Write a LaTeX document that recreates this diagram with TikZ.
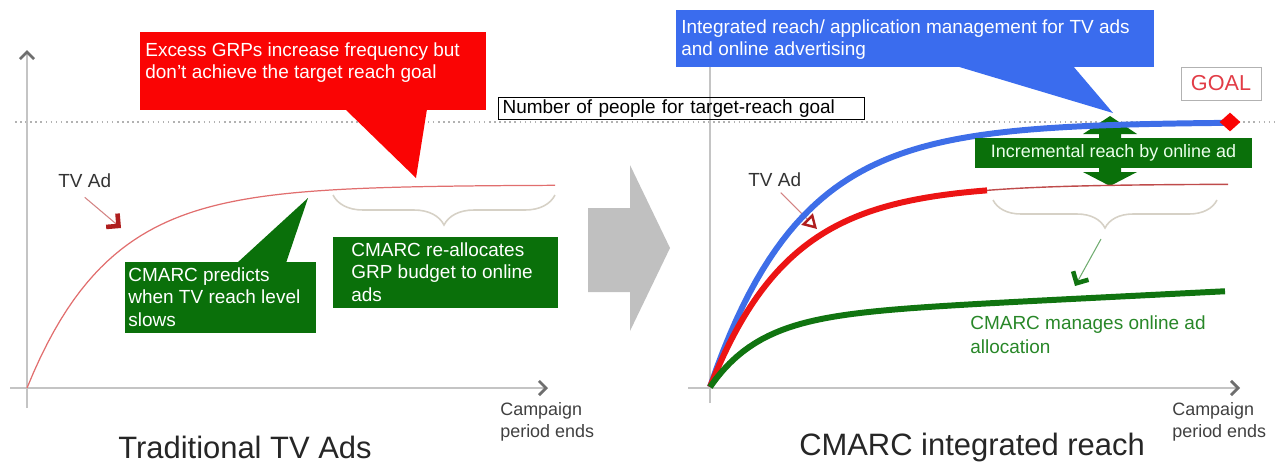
\documentclass[tikz,border=0pt]{standalone}
\usepackage{fontspec}
\setmainfont{Liberation Sans}
\usetikzlibrary{fit,arrows.meta,shapes.geometric,decorations.pathreplacing}

\definecolor{excessred}{RGB}{250,4,4}
\definecolor{callblue}{RGB}{58,108,238}
\definecolor{reachblue}{RGB}{62,110,232}
\definecolor{boxgreen}{RGB}{10,112,10}
\definecolor{onlinegreen}{RGB}{16,116,16}
\definecolor{managegreen}{RGB}{40,135,40}
\definecolor{tvred}{RGB}{175,30,30}
\definecolor{tvthin}{RGB}{225,110,110}
\definecolor{curvered}{RGB}{236,20,20}
\definecolor{shiftgray}{RGB}{192,192,192}
\definecolor{axisgray}{RGB}{196,196,196}
\definecolor{tipgray}{RGB}{110,110,110}
\definecolor{bracegray}{RGB}{214,209,198}
\definecolor{goalred}{RGB}{226,60,70}

\begin{document}
\begin{tikzpicture}[x=0.2mm,y=-0.2mm,
		lbl/.style={font=\fontsize{10.8}{13}\selectfont,inner sep=0pt,align=left,anchor=north west},
		boxlbl/.style={lbl,text=white},
		small/.style={font=\fontsize{10.2}{12.5}\selectfont},
		paneltitle/.style={font=\fontsize{17.6}{20}\selectfont,inner sep=0pt,text=black!85},
		boxfill/.style={inner sep=0pt,fill=#1},
		axisline/.style={draw=axisgray,line width=0.8pt,-{Straight Barb[length=4pt,width=8pt,line width=1.6pt,color=tipgray]}},
		curve/.style={line width=3.4pt,draw=#1}]

		\useasboundingbox (0,0) rectangle (1275,462);

		%% target reach level
		\draw[dotted,line width=0.9pt,draw=gray!60] (15,122) -- (1275,122);

		%%% Traditional TV
		\draw[axisline] (27,408) -- (27,50);
		\draw[axisline] (10,388) -- (548,388);

		\node[lbl,text=black!80] (tvad) at (58,173) {TV Ad};
		\coordinate (tvadtip) at (121,228);
		\draw[draw=tvred!55,line width=0.6pt,-{Straight Barb[length=5pt,width=10pt,line width=2.6pt,color=tvred]}] ([yshift=-5.5pt]tvad.south) -- (tvadtip);

		\draw[draw=tvthin,line width=0.7pt] plot[domain=0:528,samples=80,variable=\t] ({27+\t},{388-203*(1-exp(-\t/82))});

		\node[fit={(140,32) (486,110)},boxfill=excessred] (excessbox) {};
		\coordinate (excesstip) at (416,178);
		\fill[excessred] (345,109) -- (excesstip) -- (427,109) -- cycle;
		\node[boxlbl] (excess) at (145,42) {Excess GRPs increase frequency but\\don't achieve the target reach goal};

		\node[fit={(125,262) (316,333)},boxfill=boxgreen] (predictbox) {};
		\coordinate (predicttip) at (308,198);
		\fill[boxgreen] (237,263) -- (predicttip) -- (286,263) -- cycle;
		\node[boxlbl] (predict) at (128,267) {CMARC predicts\\when TV reach level\\slows};

		\draw[bracegray,line width=0.9pt,decorate,decoration={brace,mirror,amplitude=6mm}] (333,195) -- (555,195);
		\node[fit={(333,237) (558,308)},boxfill=boxgreen] (reallocbox) {};
		\node[boxlbl] (realloc) at (351,242) {CMARC re-allocates\\GRP budget to online\\ads};

		\node[lbl,small,text=black!75] (endleft) at (500,402) {Campaign\\period ends};
		\node[paneltitle] (traditional) at (245,447) {Traditional TV Ads};

		%% shift to the integrated plan
		\fill[shiftgray] (588,208) -- (630,208) -- (630,165) -- (670,248) -- (630,331) -- (630,292) -- (588,292) -- cycle;

		%%% CMARC integrated reach
		\draw[axisline] (710,403) -- (710,55);
		\draw[axisline] (688,388) -- (1240,388);

		\node[lbl,draw=black,line width=0.7pt,anchor=west,text width=71.6mm,inner xsep=0.8mm,inner ysep=1.4pt] (target) at (498,108.5) {Number of people for target-reach goal};

		\node[lbl,text=black!80] (tvadtwo) at (748,172) {TV Ad};
		\coordinate (tvadtwotip) at (817,229);
		\draw[draw=tvred!55,line width=0.6pt,-{Triangle[open,length=8pt,width=9pt,line width=1.4pt,color=tvred]}] ([xshift=3.4pt,yshift=-3.4pt]tvadtwo.south) -- (tvadtwotip);

		\fill[boxgreen] (1110,116) -- (1137,134) -- (1121,134) -- (1121,172) -- (1137,172) -- (1110,186) -- (1083,172) -- (1099,172) -- (1099,134) -- (1083,134) -- cycle;

		\draw[curve=reachblue] plot[domain=0:520,samples=80,variable=\t] ({710+\t},{387-265*(1-exp(-\t/90))});
		\draw[curve=curvered] plot[domain=0:277,samples=60,variable=\t] ({710+\t},{387-203*(1-exp(-\t/80))});
		\draw[draw=tvred!80,line width=0.8pt] plot[domain=277:518,samples=30,variable=\t] ({710+\t},{387-203*(1-exp(-\t/80))});
		\draw[curve=onlinegreen] plot[domain=0:515,samples=80,variable=\t] ({710+\t},{387-70*(1-exp(-\t/50))-0.05*\t});

		\node[diamond,fill=excessred,inner sep=0pt,minimum width=4.2mm,minimum height=3.8mm] (goalmark) at (1230,122) {};
		\node[draw=gray!60,fill=white,inner sep=0pt,minimum width=16mm,minimum height=6.6mm,font=\fontsize{12.3}{14}\selectfont,text=goalred] (goal) at (1221,83.5) {GOAL};

		\node[fit={(676,10) (1154,67)},boxfill=callblue] (integratedbox) {};
		\coordinate (integratedtip) at (1113,113);
		\fill[callblue] (956,66) -- (integratedtip) -- (1073,66) -- cycle;
		\node[boxlbl] (integ) at (681,19) {Integrated reach/ application management for TV ads\\and online advertising};

		\node[fill=boxgreen,minimum width=55.4mm,minimum height=6mm,inner sep=0pt,small,text=green!8!white] (incremental) at (1113.5,153) {Incremental reach by online ad};

		\draw[bracegray,line width=0.9pt,decorate,decoration={brace,mirror,amplitude=5.6mm}] (993,200) -- (1217,200);
		\coordinate (bracetip) at (1101,239);
		\coordinate (onlinetip) at (1075,286);
		\draw[draw=onlinegreen!60,line width=0.6pt,-{Straight Barb[length=5pt,width=10pt,line width=2.6pt,color=onlinegreen]}] (bracetip) -- (onlinetip);

		\node[lbl,text=managegreen,font=\fontsize{10.8}{13.6}\selectfont] (manage) at (970,315) {CMARC manages online ad\\allocation};

		\node[lbl,small,text=black!75] (endright) at (1172,402) {Campaign\\period ends};
		\node[paneltitle] (integrated) at (972,447) {CMARC integrated reach};

	\end{tikzpicture}
\end{document}
